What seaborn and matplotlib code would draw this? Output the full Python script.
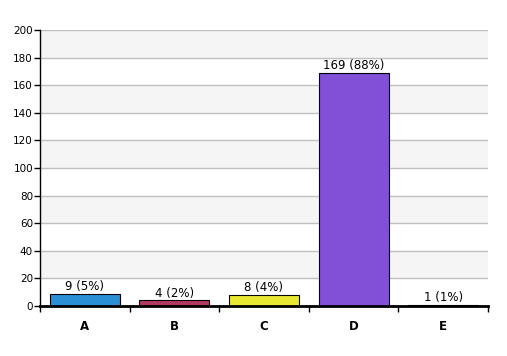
import pandas as pd
import seaborn as sns
import numpy as np
import matplotlib.pyplot as plt
from matplotlib.ticker import FixedLocator

categories = ['A', 'B', 'C', 'D', 'E']
counts = [9, 4, 8, 169, 1]
percents = [5, 2, 4, 88, 1]
bar_colors = ['#2b8fd6', '#b03a62', '#e8e832', '#8150d6', '#3cae4a']

df = pd.DataFrame({'answer': categories, 'count': counts})

sns.set_style('white')
plt.rcParams['font.family'] = ['DejaVu Sans']
plt.rcParams['text.color'] = 'black'
plt.rcParams['xtick.color'] = 'black'
plt.rcParams['ytick.color'] = 'black'

fig = plt.figure(figsize=(5.07, 3.56), dpi=100)
ax = fig.add_axes([0.0789, 0.1404, 0.8836, 0.7753])

# alternating background bands
for lo in range(20, 200, 40):
    ax.axhspan(lo, lo + 20, color='#f5f5f5', zorder=0, lw=0)

sns.barplot(data=df, x='answer', y='count', hue='answer', palette=bar_colors,
            saturation=1, width=0.78, edgecolor='black', linewidth=0.8,
            legend=False, ax=ax, zorder=3)

labels = [f'{c} ({p}%)' for c, p in zip(counts, percents)]
for i, (c, lab) in enumerate(zip(counts, labels)):
    ax.text(i, c + 0.6, lab, ha='center', va='bottom', fontsize=8.5, color='black', zorder=4)

ax.set_ylim(0, 200)
ax.set_xlim(-0.5, 4.5)
ax.set_yticks(np.arange(0, 201, 20))
ax.yaxis.grid(True, color='#c0c0c0', linewidth=1, zorder=1)
ax.set_axisbelow(True)
ax.tick_params(axis='y', labelsize=7.5, length=4, width=1, colors='black', direction='out', left=True, pad=1)
ax.tick_params(axis='x', which='major', length=0, labelsize=8.5, colors='black', pad=10)
ax.xaxis.set_minor_locator(FixedLocator(np.arange(-0.5, 4.6, 1.0)))
ax.tick_params(axis='x', which='minor', length=4, width=1, color='black', direction='out', bottom=True)
for t in ax.get_xticklabels():
    t.set_fontweight('bold')

ax.set_xlabel('')
ax.set_ylabel('')
for s in ['top', 'right']:
    ax.spines[s].set_visible(False)
ax.spines['left'].set_color('black')
ax.spines['left'].set_linewidth(1)
ax.spines['bottom'].set_color('black')
ax.spines['bottom'].set_linewidth(2)
ax.spines['bottom'].set_zorder(5)

fig.savefig('out.png', dpi=100, facecolor='white')
